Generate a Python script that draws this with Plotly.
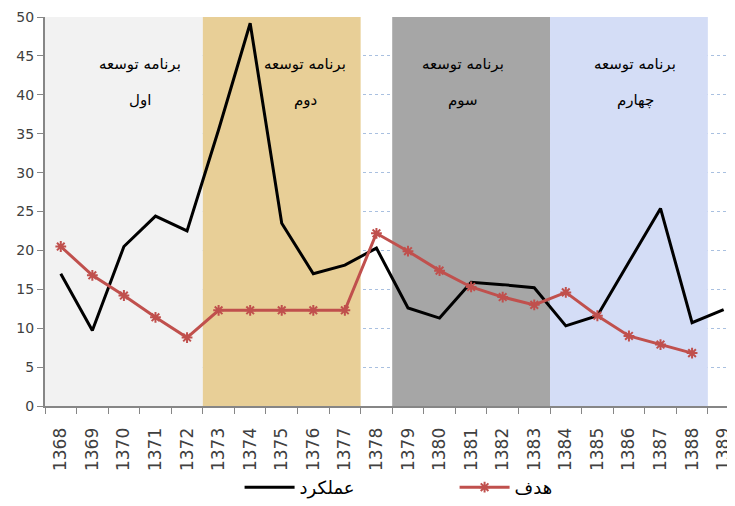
import plotly.graph_objects as go

years = [str(y) for y in range(1368, 1390)]
actual = [17.0, 9.7, 20.5, 24.4, 22.5, 35.5, 49.2, 23.5, 17.0, 18.1, 20.3,
          12.6, 11.3, 15.9, 15.6, 15.2, 10.3, 11.6, 18.5, 25.4, 10.7, 12.4]
target = [20.5, 16.8, 14.2, 11.4, 8.8, 12.3, 12.3, 12.3, 12.3, 12.3, 22.2,
          19.9, 17.4, 15.3, 14.0, 13.0, 14.6, 11.6, 9.0, 7.9, 6.8, None]

phase_names = ["اول", "دوم", "سوم", "چهارم"]
phase_spans = [(0, 4), (5, 9), (11, 15), (16, 20)]
phase_colors = ["#f2f2f2", "#e8cf97", "#a6a6a6", "#d4ddf6"]
phase_text_x = [2.5, 7.75, 12.75, 18.2]

fig = go.Figure()
fig.add_trace(go.Scatter(x=years, y=actual, mode="lines", name="عملکرد",
                         line=dict(color="black", width=3)))
fig.add_trace(go.Scatter(x=years, y=target, mode="lines+markers", name="هدف",
                         line=dict(color="#c0504d", width=3),
                         marker=dict(symbol="asterisk-open", size=9,
                                     line=dict(color="#c0504d", width=2))))

for (a, b), col in zip(phase_spans, phase_colors):
    fig.add_shape(type="rect", xref="x", yref="y", x0=a - 0.5, x1=b + 0.5,
                  y0=0, y1=50, fillcolor=col, line=dict(width=0), layer="between")

for name, tx in zip(phase_names, phase_text_x):
    fig.add_annotation(x=tx, y=44, xref="x", yref="y", text="برنامه توسعه",
                       showarrow=False, font=dict(family="DejaVu Sans", size=15, color="black"))
    fig.add_annotation(x=tx, y=39.3, xref="x", yref="y", text=name,
                       showarrow=False, font=dict(family="DejaVu Sans", size=15, color="black"))

fig.update_layout(
    width=727, height=498,
    margin=dict(l=37, r=0, t=9, b=100),
    plot_bgcolor="white", paper_bgcolor="white",
    showlegend=True,
    legend=dict(orientation="h", x=0.282, xanchor="left", y=-0.257, yanchor="bottom",
                entrywidth=150, itemwidth=50,
                font=dict(family="DejaVu Sans", size=18, color="black")),
    xaxis=dict(type="category", range=[-0.5, 21.36], tickangle=-90, automargin=False,
               tickson="boundaries", ticks="outside", ticklen=6, tickcolor="#868686",
               ticklabelstandoff=13,
               showline=True, linecolor="#868686", linewidth=2, showgrid=False,
               tickfont=dict(family="DejaVu Sans", size=17, color="#404040")),
    yaxis=dict(range=[0, 50], dtick=5, ticks="outside", ticklen=6, tickcolor="#868686",
               automargin=False,
               showline=True, linecolor="#868686", linewidth=2,
               showgrid=True, gridcolor="#a9c0e0", griddash="dot", gridwidth=1,
               zeroline=False,
               tickfont=dict(family="DejaVu Sans", size=14, color="#404040")),
)

fig.write_html("out.html")
